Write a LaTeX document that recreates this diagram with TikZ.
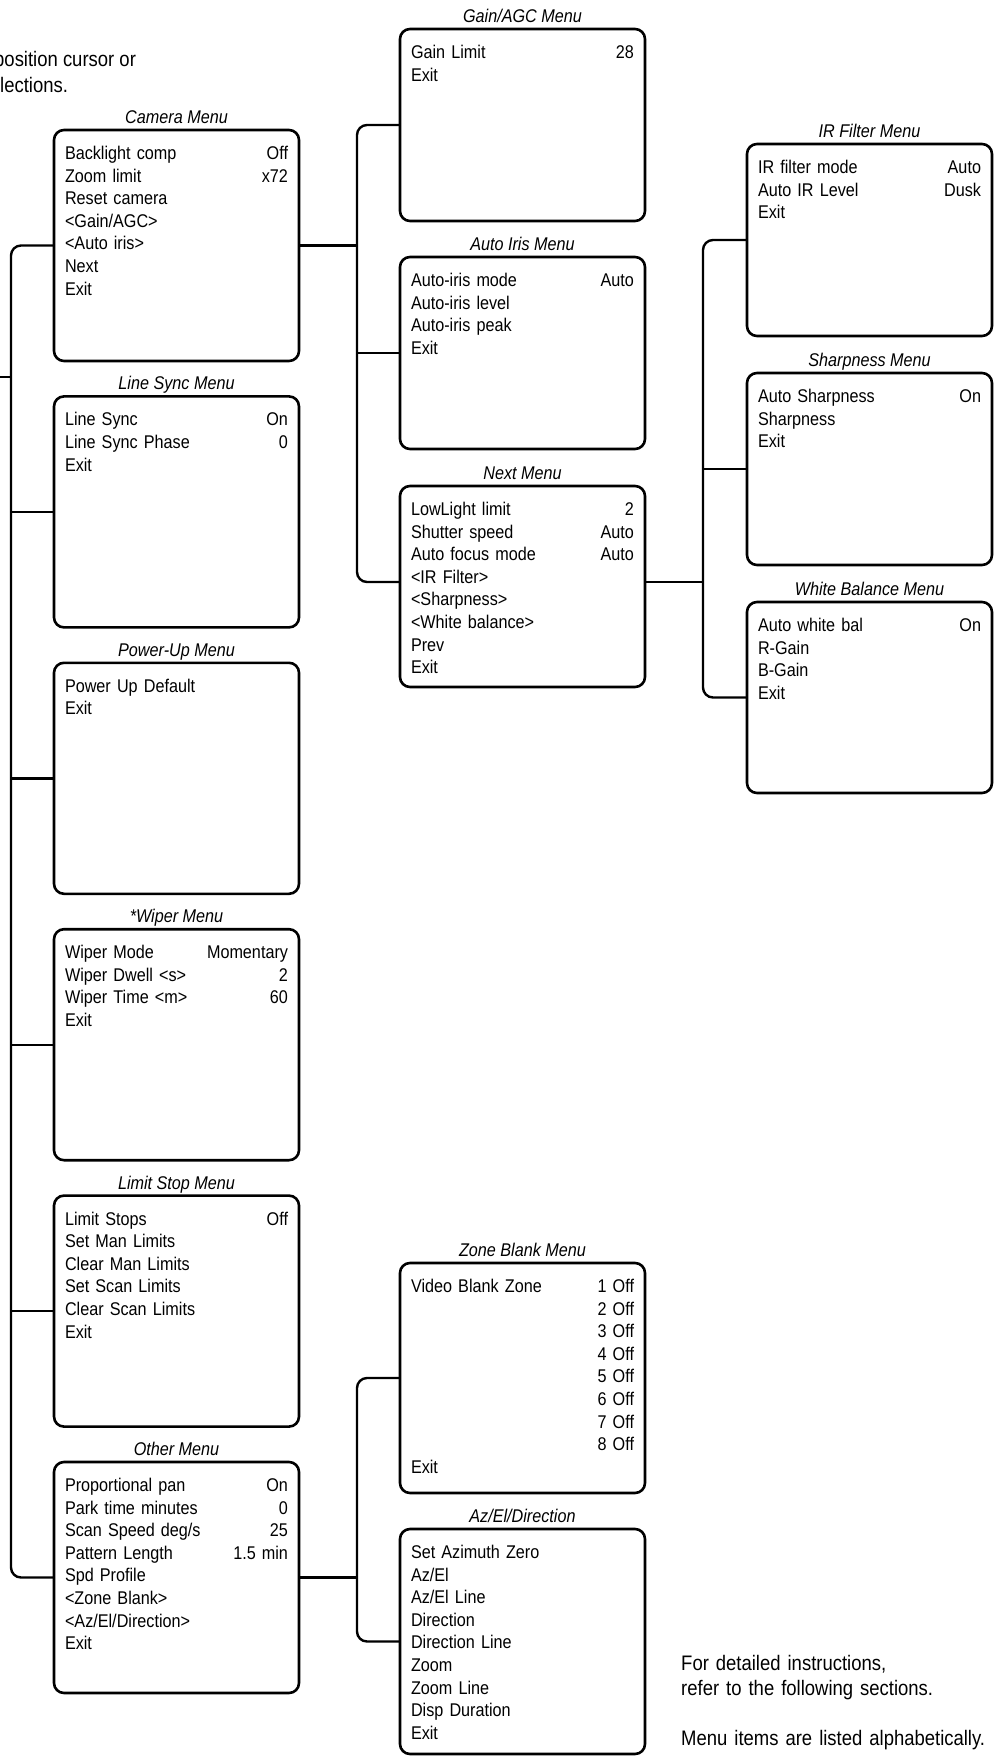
\documentclass[tikz,border=0pt]{standalone}
\usepackage{fontspec}
\setmainfont{Liberation Sans}[FakeStretch=0.88]
\usetikzlibrary{positioning}

\begin{document}
\begin{tikzpicture}[x=1pt,y=-1pt,
  font=\fontsize{18.4}{22.6}\selectfont,
  menubox/.style={draw, line width=2.6pt, rounded corners=10pt, anchor=north west,
    outer sep=0pt, inner xsep=11pt, inner ysep=0pt, text width=223pt, align=left,
    text height=29.5pt, text depth=#1},
  menutitle/.style={font=\fontsize{18.4}{22.6}\selectfont\itshape, inner sep=0pt, anchor=base},
  note/.style={font=\fontsize{21}{25}\selectfont, inner sep=0pt, anchor=base west},
  link/.style={draw, line width=2.4pt}]
\useasboundingbox (0,0) rectangle (998,1756);

\node[note] (hint1) at (-6,66) {position cursor or};
\node[note] (hint2) at (0,92) {lections.};

% left column
\node[menubox=201.5pt] (cam) at (54,130) {Backlight comp\hfill Off\\Zoom limit\hfill x72\\Reset camera\\<Gain/AGC>\\<Auto iris>\\Next\\Exit};
\node[menubox=201.5pt, below=35.4pt of cam] (sync) {Line Sync\hfill On\\Line Sync Phase\hfill 0\\Exit};
\node[menubox=201.5pt, below=35.4pt of sync] (power) {Power Up Default\\Exit};
\node[menubox=201.5pt, below=35.4pt of power] (wiper) {Wiper Mode\hfill Momentary\\Wiper Dwell <s>\hfill 2\\Wiper Time <m>\hfill 60\\Exit};
\node[menubox=201.5pt, below=35.4pt of wiper] (limit) {Limit Stops\hfill Off\\Set Man Limits\\Clear Man Limits\\Set Scan Limits\\Clear Scan Limits\\Exit};
\node[menubox=201.5pt, below=35.4pt of limit] (other) {Proportional pan\hfill On\\Park time minutes\hfill 0\\Scan Speed deg/s\hfill 25\\Pattern Length\hfill 1.5 min\\Spd Profile\\<Zone Blank>\\<Az/El/Direction>\\Exit};

% middle column
\node[menubox=162.5pt] (gain) at (400,29) {Gain Limit\hfill 28\\Exit};
\node[menubox=162.5pt, below=36pt of gain] (iris) {Auto-iris mode\hfill Auto\\Auto-iris level\\Auto-iris peak\\Exit};
\node[menubox=171.5pt, below=37pt of iris] (next) {LowLight limit\hfill 2\\Shutter speed\hfill Auto\\Auto focus mode\hfill Auto\\<IR Filter>\\<Sharpness>\\<White balance>\\Prev\\Exit};
\node[menubox=200.5pt] (zone) at (400,1263) {Video Blank Zone\hfill 1 Off\\\mbox{}\hfill 2 Off\\\mbox{}\hfill 3 Off\\\mbox{}\hfill 4 Off\\\mbox{}\hfill 5 Off\\\mbox{}\hfill 6 Off\\\mbox{}\hfill 7 Off\\\mbox{}\hfill 8 Off\\Exit};
\node[menubox=195.5pt, below=36pt of zone] (azel) {Set Azimuth Zero\\Az/El\\Az/El Line\\Direction\\Direction Line\\Zoom\\Zoom Line\\Disp Duration\\Exit};

% right column
\node[menubox=162.5pt] (irf) at (747,144) {IR filter mode\hfill Auto\\Auto IR Level\hfill Dusk\\Exit};
\node[menubox=162.5pt, below=37pt of irf] (sharp) {Auto Sharpness\hfill On\\Sharpness\\Exit};
\node[menubox=161.5pt, below=37pt of sharp] (wbal) {Auto white bal\hfill On\\R-Gain\\B-Gain\\Exit};

% titles
\node[above=6.5pt of cam, menutitle] (tcam) {Camera Menu};
\node[above=6.5pt of sync, menutitle] (tsync) {Line Sync Menu};
\node[above=6.5pt of power, menutitle] (tpower) {Power-Up Menu};
\node[above=6.5pt of wiper, menutitle] (twiper) {*Wiper Menu};
\node[above=6.5pt of limit, menutitle] (tlimit) {Limit Stop Menu};
\node[above=6.5pt of other, menutitle] (tother) {Other Menu};
\node[above=6.5pt of gain, menutitle] (tgain) {Gain/AGC Menu};
\node[above=6.5pt of iris, menutitle] (tiris) {Auto Iris Menu};
\node[above=6.5pt of next, menutitle] (tnext) {Next Menu};
\node[above=6.5pt of zone, menutitle] (tzone) {Zone Blank Menu};
\node[above=6.5pt of azel, menutitle] (tazel) {Az/El/Direction};
\node[above=6.5pt of irf, menutitle] (tirf) {IR Filter Menu};
\node[above=6.5pt of sharp, menutitle] (tsharp) {Sharpness Menu};
\node[above=6.5pt of wbal, menutitle] (twbal) {White Balance Menu};

\node[note, text width=320pt, align=left] (refnote) at (681,1670) {For detailed instructions,\\refer to the following sections.\\[25pt]Menu items are listed alphabetically.};

% connectors
\coordinate (lspine) at (11,0);
\coordinate (mspine) at (357,0);
\coordinate (rspine) at (703,0);
\coordinate (mainin) at (0,377);
\coordinate (nextl) at ([yshift=4.5pt]next.west);
\coordinate (nextr) at ([yshift=4.5pt]next.east);

\path[link, rounded corners=10pt] (cam.west) -- (cam.west -| lspine) -- (other.west -| lspine) -- (other.west);
\path[link] (mainin) -- (mainin -| lspine);
\path[link] (sync.west) -- (sync.west -| lspine);
\path[link] (power.west) -- (power.west -| lspine);
\path[link] (wiper.west) -- (wiper.west -| lspine);
\path[link] (limit.west) -- (limit.west -| lspine);

\path[link, rounded corners=10pt] (gain.west) -- (gain.west -| mspine) -- (nextl -| mspine) -- (nextl);
\path[link] (cam.east) -- (cam.east -| mspine);
\path[link] (iris.west) -- (iris.west -| mspine);

\path[link, rounded corners=10pt] (irf.west) -- (irf.west -| rspine) -- (wbal.west -| rspine) -- (wbal.west);
\path[link] (nextr) -- (nextr -| rspine);
\path[link] (sharp.west) -- (sharp.west -| rspine);

\path[link, rounded corners=10pt] (zone.west) -- (zone.west -| mspine) -- (azel.west -| mspine) -- (azel.west);
\path[link] (other.east) -- (other.east -| mspine);
\end{tikzpicture}
\end{document}
